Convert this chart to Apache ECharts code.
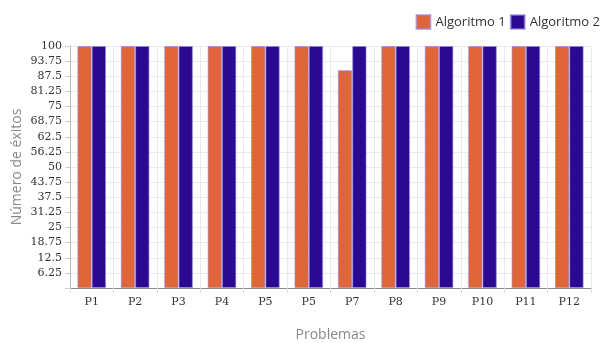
<!DOCTYPE html>
<html><head><meta charset="utf-8">
<script src="https://cdn.jsdelivr.net/npm/echarts@6/dist/echarts.min.js"></script>
<style>html,body{margin:0;padding:0;background:#fff}#c{width:605px;height:343px}</style>
</head><body><div id="c"></div>
<script>
var categories = ['P1','P2','P3','P4','P5','P5','P7','P8','P9','P10','P11','P12'];
var algoritmo1 = [100,100,100,100,100,100,90,100,100,100,100,100];
var algoritmo2 = [100,100,100,100,100,100,100,100,100,100,100,100];
var seriesNames = ['Algoritmo 1','Algoritmo 2'];
var chart = echarts.init(document.getElementById('c'));
var tickFont = 'DejaVu Serif';
chart.setOption({
  animation:false,
  legend:{top:9,right:0,itemWidth:14,itemHeight:14,itemGap:4,icon:'rect',
    textStyle:{fontFamily:'Open Sans',fontSize:13,color:'#333'},
    data:seriesNames},
  grid:{left:70,right:14,top:46,bottom:55,outerBoundsMode:'none',containLabel:false},
  xAxis:{type:'category',data:categories,
    name:'Problemas',nameLocation:'middle',nameGap:40,nameMoveOverlap:false,
    nameTextStyle:{fontFamily:'Open Sans',fontSize:14,color:'#888'},
    axisLine:{show:true,lineStyle:{color:'#888'}},
    axisTick:{show:true,alignWithLabel:false,length:5,lineStyle:{color:'#ddd'}},
    splitLine:{show:true,lineStyle:{color:'#eaeaea'}},
    axisLabel:{fontFamily:tickFont,fontSize:11,color:'#333',margin:9}},
  yAxis:{type:'value',min:0,max:100,interval:6.25,
    name:'Número de éxitos',nameLocation:'middle',nameGap:46,nameMoveOverlap:false,
    nameTextStyle:{fontFamily:'Open Sans',fontSize:14,color:'#888'},
    axisLine:{show:true,lineStyle:{color:'#bbb'}},
    axisTick:{show:true,length:5,lineStyle:{color:'#ccc'}},
    splitLine:{show:true,lineStyle:{color:'#eaeaea'}},
    axisLabel:{fontFamily:tickFont,fontSize:11,color:'#333',margin:8,
      formatter:function(v){return v===0?'':String(v);}}},
  series:[
    {name:seriesNames[0],type:'bar',data:algoritmo1,barGap:'0%',barCategoryGap:'34%',
      itemStyle:{color:'#E0663A',borderColor:'rgba(150,130,230,0.6)',borderWidth:1}},
    {name:seriesNames[1],type:'bar',data:algoritmo2,
      itemStyle:{color:'#2A0A90',borderColor:'rgba(150,130,230,0.6)',borderWidth:1}}
  ]
});
</script></body></html>
